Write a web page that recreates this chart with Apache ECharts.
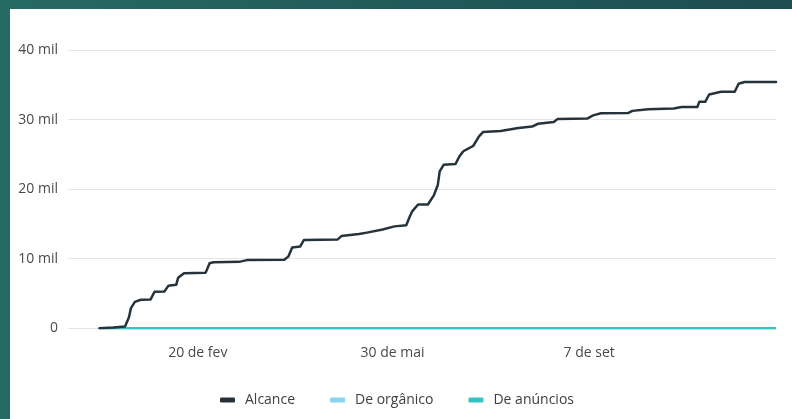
<!DOCTYPE html>
<html>
<head>
<meta charset="utf-8">
<script src="https://cdn.jsdelivr.net/npm/echarts@6/dist/echarts.min.js"></script>
<style>
  html, body { margin: 0; padding: 0; width: 792px; height: 419px; overflow: hidden; }
  body { background: linear-gradient(90deg, #266a64 0%, #215b59 50%, #1d4d4f 100%); position: relative; }
  #panel { position: absolute; left: 10px; top: 9px; width: 782px; height: 410px; background: #ffffff; }
  #chart { position: absolute; left: 0; top: 0; width: 792px; height: 419px; }
</style>
</head>
<body>
<div id="panel"></div>
<div id="chart"></div>
<script>
// ---- Data ----
const seriesNames = ['Alcance', 'De orgânico', 'De anúncios'];

const alcanceDates = [
  '2021-01-01','2021-01-08','2021-01-14','2021-01-16','2021-01-17','2021-01-19','2021-01-22','2021-01-27',
  '2021-01-29','2021-02-03','2021-02-05','2021-02-09','2021-02-10','2021-02-13','2021-02-24','2021-02-26',
  '2021-02-28','2021-03-13','2021-03-17','2021-04-05','2021-04-07','2021-04-09','2021-04-13','2021-04-15',
  '2021-05-02','2021-05-04','2021-05-13','2021-05-17','2021-05-25','2021-05-31','2021-06-06','2021-06-08',
  '2021-06-09','2021-06-12','2021-06-17','2021-06-20','2021-06-22','2021-06-23','2021-06-25','2021-07-01',
  '2021-07-03','2021-07-05','2021-07-07','2021-07-10','2021-07-13','2021-07-15','2021-07-24','2021-08-02',
  '2021-08-09','2021-08-12','2021-08-20','2021-08-22','2021-09-06','2021-09-09','2021-09-13','2021-09-27',
  '2021-09-29','2021-10-07','2021-10-20','2021-10-24','2021-11-01','2021-11-02','2021-11-05','2021-11-07',
  '2021-11-13','2021-11-20','2021-11-22','2021-11-25','2021-12-11'
];
const alcanceValues = [
  0, 100, 250, 1600, 2900, 3800, 4100, 4150,
  5250, 5300, 6100, 6250, 7250, 7900, 8000, 9350,
  9500, 9550, 9800, 9850, 10300, 11600, 11750, 12700,
  12750, 13250, 13550, 13750, 14200, 14650, 14800, 16200,
  16800, 17800, 17800, 19100, 20550, 22550, 23500, 23600,
  24700, 25450, 25750, 26200, 27600, 28200, 28350, 28800,
  29000, 29400, 29650, 30100, 30150, 30600, 30900, 30950,
  31250, 31500, 31600, 31800, 31800, 32550, 32550, 33600,
  34000, 34000, 35150, 35400, 35400
];

const flatDates = ['2021-01-01', '2021-12-11'];
const organicoValues = [0, 0];
const anunciosValues = [0, 0];

const xTickDates = ['2021-02-20', '2021-05-30', '2021-09-07'];
const xTickLabels = ['20 de fev', '30 de mai', '7 de set'];
const xRange = ['2020-12-16', '2021-12-11'];

const yTickValues = [0, 10000, 20000, 30000, 40000];
const yTickLabels = ['0', '10 mil', '20 mil', '30 mil', '40 mil'];

// ---- helpers ----
function ts(s) {
  const p = s.split('-').map(Number);
  return Date.UTC(p[0], p[1] - 1, p[2]);
}
function pairs(dates, values) {
  return dates.map((d, i) => [ts(d), values[i]]);
}

const FONT = '"Open Sans", "Noto Sans", sans-serif';
const chart = echarts.init(document.getElementById('chart'), null, { renderer: 'canvas' });

const xTickTs = xTickDates.map(ts);

chart.setOption({
  backgroundColor: 'transparent',
  animation: false,
  grid: { left: 68, right: 16, top: 50, bottom: 90.7, containLabel: false },
  xAxis: {
    type: 'value',
    min: ts(xRange[0]),
    max: ts(xRange[1]),
    axisLine: { show: false },
    axisTick: { show: false },
    splitLine: { show: false },
    axisLabel: {
      customValues: xTickTs,
      margin: 18,
      fontFamily: FONT,
      fontSize: 14,
      color: '#4a4a4a',
      formatter: function (v) {
        const i = xTickTs.indexOf(v);
        return i >= 0 ? xTickLabels[i] : '';
      }
    }
  },
  yAxis: {
    type: 'value',
    min: 0,
    max: 40000,
    interval: 10000,
    axisLine: { show: false },
    axisTick: { show: false },
    splitLine: { show: true, lineStyle: { color: '#e5e5e5', width: 1 } },
    axisLabel: {
      margin: 10,
      fontFamily: FONT,
      fontSize: 14,
      color: '#4a4a4a',
      formatter: function (v) {
        const i = yTickValues.indexOf(v);
        return i >= 0 ? yTickLabels[i] : '';
      }
    }
  },
  legend: {
    data: seriesNames,
    left: 220,
    top: 393,
    padding: 0,
    icon: 'roundRect',
    itemWidth: 15,
    itemHeight: 5,
    itemGap: 35,
    textStyle: { fontFamily: FONT, fontSize: 14, color: '#404040', padding: [0, 0, 0, 5] }
  },
  series: [
    {
      name: seriesNames[1],
      type: 'line',
      data: pairs(flatDates, organicoValues),
      showSymbol: false,
      color: '#8ad4f0',
      lineStyle: { width: 2.5, color: '#8ad4f0' },
      z: 2
    },
    {
      name: seriesNames[2],
      type: 'line',
      data: pairs(flatDates, anunciosValues),
      showSymbol: false,
      color: '#38c3c3',
      lineStyle: { width: 2.5, color: '#38c3c3' },
      z: 3
    },
    {
      name: seriesNames[0],
      type: 'line',
      data: pairs(alcanceDates, alcanceValues),
      showSymbol: false,
      color: '#27333a',
      lineStyle: { width: 2.5, color: '#27333a', join: 'round', cap: 'round' },
      z: 4
    }
  ]
});
</script>
</body>
</html>
